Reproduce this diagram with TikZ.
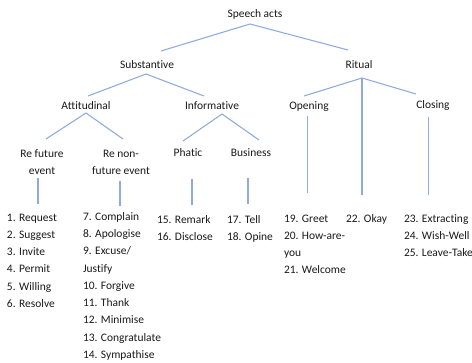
\documentclass[tikz,border=0pt]{standalone}
\usepackage{fontspec}
\setmainfont{Carlito}[Ligatures=NoCommon]
\usetikzlibrary{calc}
\definecolor{lineblue}{RGB}{143,170,220}
\definecolor{txt}{RGB}{25,25,25}
\newcommand\lstrut{\vrule height 7pt depth 0pt width 0pt}
\begin{document}
\begin{tikzpicture}[x=0.75pt,y=-0.75pt,
  lbl/.style={inner sep=0pt, outer sep=0pt, text=txt, font=\fontsize{8.6}{12.95}\selectfont},
  hd/.style={lbl, anchor=base},
  two/.style={lbl, anchor=north, align=center},
  lst/.style={lbl, anchor=north west, align=left},
  conn/.style={draw=lineblue, line width=0.8pt}]
\useasboundingbox (0,0) rectangle (472,363);
% headers
\node[hd] (sa) at (255,17.7) {Speech acts};
\node[hd] (sub) at (147,68.3) {Substantive};
\node[hd] (rit) at (359,68.5) {Ritual};
\node[hd] (att) at (86,110) {Attitudinal};
\node[hd] (inf) at (212,110) {Informative};
\node[hd] (open) at (309,110) {Opening};
\node[hd] (close) at (433,109) {Closing};
\node[two] (refut) at (42,147.7) {\lstrut Re future\\event};
\node[two] (renon) at (121,147.7) {\lstrut Re non-\\future event};
\node[hd] (phatic) at (188,157) {Phatic};
\node[hd] (bus) at (251,157) {Business};
% lists
\node[lst] (l1) at (7,211.7) {\lstrut 1. Request\\2. Suggest\\3. Invite\\4. Permit\\5. Willing\\6. Resolve};
\node[lst] (l2) at (83,211) {\lstrut 7. Complain\\8. Apologise\\9. Excuse/\\Justify\\10. Forgive\\11. Thank\\12. Minimise\\13. Congratulate\\14. Sympathise};
\node[lst] (l3) at (157,213.7) {\lstrut 15. Remark\\16. Disclose};
\node[lst] (l4) at (227,213.7) {\lstrut 17. Tell\\18. Opine};
\node[lst] (l5) at (284,212.7) {\lstrut 19. Greet\\20. How-are-\\you\\21. Welcome};
\node[lst] (l6) at (346,212.7) {\lstrut 22. Okay};
\node[lst] (l7) at (404,212.7) {\lstrut 23. Extracting\\24. Wish-Well\\25. Leave-Take};
% connectors
\draw[conn] ($(sa.base)+(-5,6.3)$) -- ($(sub.base)+(14,-17.3)$);
\draw[conn] ($(sa.base)+(-5,6.3)$) -- ($(rit.base)+(-11,-18.5)$);
\draw[conn] ($(sub.base)+(-1,5.7)$) -- ($(att.base)+(2,-14)$);
\draw[conn] ($(sub.base)+(-1,5.7)$) -- ($(inf.base)+(-8,-14)$);
\draw[conn] ($(rit.base)+(3,9.5)$) -- ($(open.base)+(-5,-14)$);
\draw[conn] ($(rit.base)+(3,9.5)$) -- ($(close.base)+(-17,-15)$);
\draw[conn] ($(rit.base)+(3,9.5)$) -- ($(l6.north west)+(16,-17.7)$);
\draw[conn] ($(att.base)+(0,3)$) -- ($(refut.north)+(4,-8.7)$);
\draw[conn] ($(att.base)+(0,3)$) -- ($(renon.north)+(2,-8.7)$);
\draw[conn] ($(inf.base)+(10,4)$) -- ($(phatic.base)+(-5,-16)$);
\draw[conn] ($(inf.base)+(10,4)$) -- ($(bus.base)+(8,-17)$);
\draw[conn] ($(open.base)+(-1.5,6)$) -- ($(l5.north west)+(23.5,-19.7)$);
\draw[conn] ($(close.base)+(-4.5,8)$) -- ($(l7.north west)+(24.5,-17.7)$);
\draw[conn] ($(refut.north)+(-4,30.3)$) -- ($(l1.north west)+(31,-7.7)$);
\draw[conn] ($(renon.north)+(-1,33.3)$) -- ($(l2.north west)+(37,-5)$);
\draw[conn] ($(phatic.base)+(4,22)$) -- ($(l3.north west)+(35,-8.7)$);
\draw[conn] ($(bus.base)+(-3,21)$) -- ($(l4.north west)+(21,-9.7)$);
\end{tikzpicture}
\end{document}
